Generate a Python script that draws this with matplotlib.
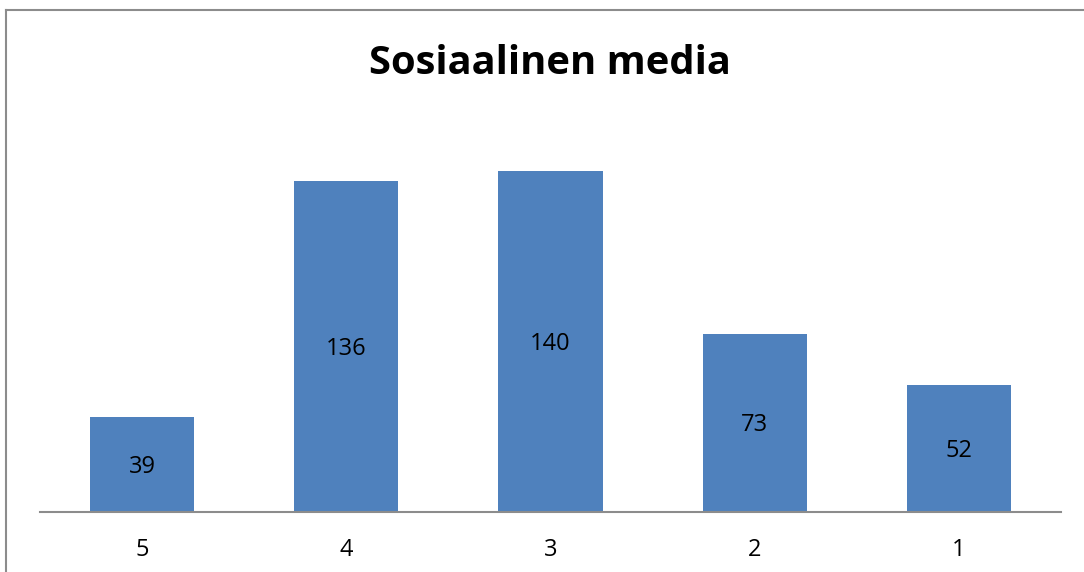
import matplotlib
matplotlib.use('agg')
from matplotlib import pyplot as plt
from matplotlib.lines import Line2D

categories = ['5', '4', '3', '2', '1']
values = [39, 136, 140, 73, 52]

W, H = 1084, 572
fig = plt.figure(figsize=(W / 100, H / 100), dpi=100)

# outer chart border (only left/top visible in the reference)
fig.add_artist(Line2D([6 / W, 6 / W], [0, 1 - 10 / H], color='#8c8c8c', lw=1.5))
fig.add_artist(Line2D([6 / W, 1], [1 - 10 / H, 1 - 10 / H], color='#8c8c8c', lw=1.5))

ax = fig.add_axes([40 / W, (H - 512) / H, 1021 / W, 390 / H])
x = range(len(categories))
bars = ax.bar(x, values, width=0.51, color='#4f81bd')
ax.set_xlim(-0.5, len(categories) - 0.5)
ax.set_ylim(0, 160)

for b, v in zip(bars, values):
    ax.text(b.get_x() + b.get_width() / 2, v / 2 - 1, str(v), ha='center', va='center',
            fontsize=17, family='Open Sans', color='#000000')

ax.set_xticks(list(x))
ax.set_xticklabels(categories, fontsize=17, family='Open Sans')
ax.tick_params(axis='x', length=0, pad=19)
ax.set_yticks([])
for side in ['left', 'right', 'top']:
    ax.spines[side].set_visible(False)
ax.spines['bottom'].set_color('#8c8c8c')
ax.spines['bottom'].set_linewidth(1.5)

fig.text(550 / W, 1 - 64 / H, 'Sosiaalinen media', ha='center', va='center',
         fontsize=28.7, fontweight='bold', family='Open Sans')

plt.savefig('out.png', dpi=100)
plt.close()
